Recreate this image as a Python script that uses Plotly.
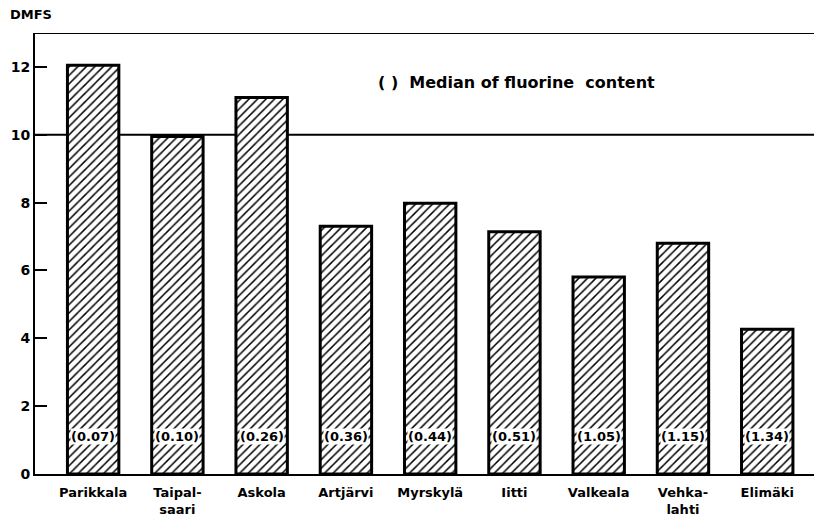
import plotly.graph_objects as go

# DMFS by commune, with median fluorine content in brackets
kunnat = ["Parikkala", "Taipal-<br>saari", "Askola", "Artjärvi", "Myrskylä",
          "Iitti", "Valkeala", "Vehka-<br>lahti", "Elimäki"]
dmfs = [12.05, 9.95, 11.1, 7.3, 7.98, 7.14, 5.81, 6.8, 4.27]
fluori = ["(0.07)", "(0.10)", "(0.26)", "(0.36)", "(0.44)", "(0.51)", "(1.05)", "(1.15)", "(1.34)"]
y_ticks = [0, 2, 4, 6, 8, 10, 12]

FONTTI = "DejaVu Sans"
x_idx = list(range(len(kunnat)))

fig = go.Figure()
fig.add_trace(go.Bar(
    x=x_idx, y=dmfs, width=0.61,
    marker=dict(color="white", line=dict(color="black", width=3),
                pattern=dict(shape="/", fgcolor="black", bgcolor="white", fgopacity=1,
                             size=6, solidity=0.25)),
    hoverinfo="skip",
))

# fluoride medians written near the base of each bar
for i, teksti in enumerate(fluori):
    fig.add_annotation(x=i, y=1.1, text=teksti, showarrow=False,
                       bgcolor="white", borderpad=0,
                       font=dict(family=FONTTI, size=13, color="black", weight="bold"))

# horizontal rules at 10 and at the top
for yy in (10, 13):
    fig.add_shape(type="line", xref="paper", x0=0, x1=1, y0=yy, y1=yy,
                  line=dict(color="black", width=2), layer="below")

fig.add_annotation(xref="paper", yref="paper", x=-0.034, y=1.041, xanchor="left", yanchor="middle",
                   text="DMFS", showarrow=False,
                   font=dict(family=FONTTI, size=13, color="black", weight="bold"))
fig.add_annotation(x=5.03, y=11.53, text="( )  Median of fluorine  content", showarrow=False,
                   xanchor="center",
                   font=dict(family=FONTTI, size=16, color="black", weight="bold"))

# page body has an 8px margin, so the figure is a bit smaller than the window
fig.update_layout(
    width=814, height=514, paper_bgcolor="white", plot_bgcolor="white",
    margin=dict(l=27, r=0, t=25, b=48), showlegend=False,
    font=dict(family=FONTTI, color="black"),
)
fig.update_xaxes(range=[-0.69, 8.65], tickvals=x_idx, ticktext=kunnat, automargin=False,
                 showgrid=False, zeroline=False, showline=True, linecolor="black", linewidth=2,
                 ticks="", ticklabelstandoff=5,
                 tickfont=dict(family=FONTTI, size=13, color="black", weight="bold"))
fig.update_yaxes(range=[0, 13], tickvals=y_ticks, showgrid=False, zeroline=False, automargin=False,
                 showline=True, linecolor="black", linewidth=2,
                 ticks="inside", ticklen=12, tickwidth=2, tickcolor="black",
                 tickfont=dict(family=FONTTI, size=14, color="black", weight="bold"))

fig.write_html("out.html")
